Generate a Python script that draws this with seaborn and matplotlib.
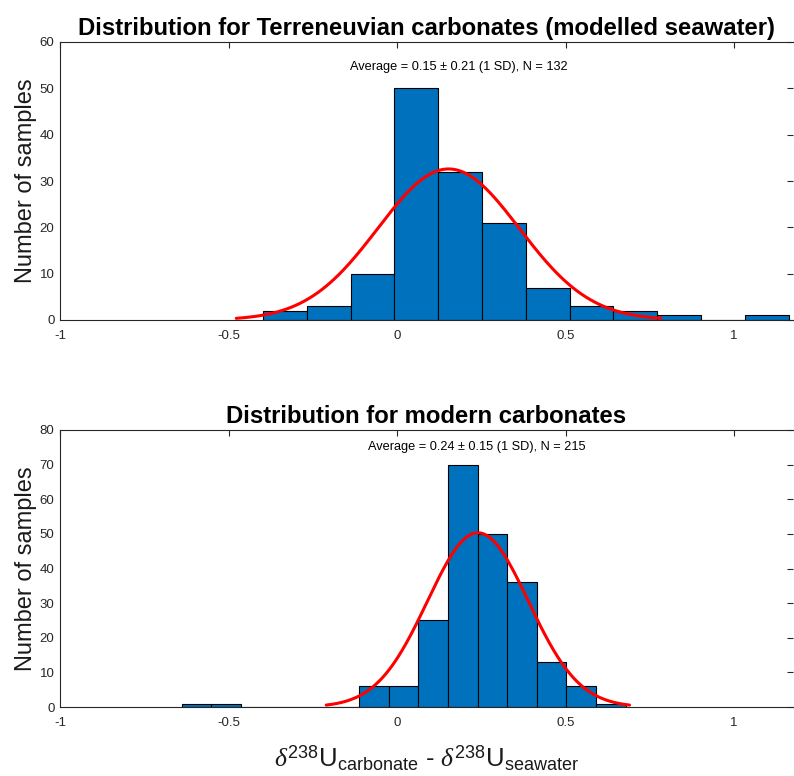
import numpy as np
import pandas as pd
import matplotlib
matplotlib.use("Agg")
import matplotlib.pyplot as plt
import seaborn as sns

# ---- data ----
terr_edges = [-0.398, -0.268, -0.138, -0.008, 0.122, 0.252, 0.382, 0.512, 0.642, 0.772, 0.902, 1.032, 1.162]
terr_counts = [2, 3, 10, 50, 32, 21, 7, 3, 2, 1, 0, 1]
terr_mean, terr_sd, terr_n = 0.153, 0.21, 132

mod_edges = [-0.639, -0.551, -0.463, -0.376, -0.288, -0.200, -0.112, -0.024,
             0.063, 0.151, 0.239, 0.327, 0.414, 0.502, 0.590, 0.678]
mod_counts = [1, 1, 0, 0, 0, 0, 6, 6, 25, 70, 50, 36, 13, 6, 1]
mod_mean, mod_sd, mod_n = 0.24, 0.15, 215

titles = ["Distribution for Terreneuvian carbonates (modelled seawater)",
          "Distribution for modern carbonates"]
notes = ["Average = 0.15 \u00b1 0.21 (1 SD), N = 132",
         "Average = 0.24 \u00b1 0.15 (1 SD), N = 215"]
x_ticks = [-1, -0.5, 0, 0.5, 1]
x_ticklabels = ["-1", "-0.5", "0", "0.5", "1"]
y_ticks_top = [0, 10, 20, 30, 40, 50, 60]
y_ticks_bot = [0, 10, 20, 30, 40, 50, 60, 70, 80]

sns.set_style("white")
plt.rcParams['font.family'] = ['Liberation Sans', 'DejaVu Sans']
plt.rcParams['mathtext.fontset'] = 'custom'
plt.rcParams['mathtext.rm'] = 'Liberation Sans'
plt.rcParams['mathtext.it'] = 'Liberation Serif:italic'

fig = plt.figure(figsize=(7.94, 7.76), dpi=100)
ax1 = fig.add_axes([60/794, 1-320/776, 733/794, 278/776])
ax2 = fig.add_axes([60/794, 1-707/776, 733/794, 277/776])

panels = [
    (ax1, terr_edges, terr_counts, terr_mean, terr_sd, terr_n, titles[0], notes[0], (0.184, 54.6), y_ticks_top, 60),
    (ax2, mod_edges, mod_counts, mod_mean, mod_sd, mod_n, titles[1], notes[1], (0.237, 75.1), y_ticks_bot, 80),
]

for ax, edges, counts, mu, sd, n, title, note, npos, yt, ymax in panels:
    e = np.array(edges, dtype=float)
    centers = (e[:-1] + e[1:]) / 2
    df = pd.DataFrame({"x": centers, "w": np.array(counts, dtype=float)})
    sns.histplot(data=df, x="x", weights="w", bins=list(edges), ax=ax,
                 color="#0072BD", alpha=1.0, edgecolor="black", linewidth=0.8)
    bw = e[1] - e[0]
    xs = np.linspace(mu - 3*sd, mu + 3*sd, 200)
    ys = n * bw / (sd * np.sqrt(2*np.pi)) * np.exp(-0.5*((xs - mu)/sd)**2)
    sns.lineplot(x=xs, y=ys, ax=ax, color="#FF0000", linewidth=2.2)
    ax.set_xlim(-1, 1.175)
    ax.set_ylim(0, ymax)
    ax.set_xticks(x_ticks)
    ax.set_xticklabels(x_ticklabels)
    ax.set_yticks(yt)
    ax.tick_params(direction="in", length=4, width=0.8, colors="#262626",
                   labelsize=9.5, top=True, right=True, pad=4)
    ax.tick_params(axis="x", pad=7)
    for s in ["left", "bottom", "top"]:
        ax.spines[s].set_color("#262626")
        ax.spines[s].set_linewidth(0.8)
    ax.spines["right"].set_visible(False)
    ax.set_title(title, fontsize=17.2, fontweight="bold", pad=5, color="black")
    ax.set_ylabel("Number of samples", fontsize=17, labelpad=2, color="#1a1a1a")
    ax.set_xlabel("")
    ax.text(npos[0], npos[1], note, ha="center", va="center", fontsize=9.2, color="black")

ax2.set_xlabel(r"$\mathit{\delta}^{238}\mathrm{U}_{\mathrm{carbonate}}$ - $\mathit{\delta}^{238}\mathrm{U}_{\mathrm{seawater}}$",
               fontsize=18.5, labelpad=11, color="#1a1a1a")

fig.savefig("out.png", dpi=100)
